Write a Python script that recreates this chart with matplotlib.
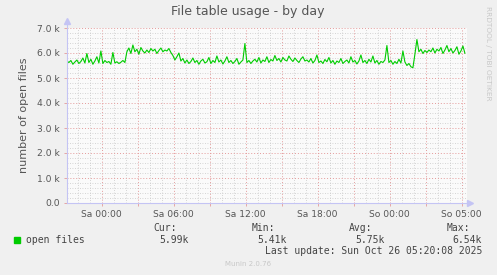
import numpy as np
import matplotlib
matplotlib.use("Agg")
import matplotlib.pyplot as plt

# open files, one reading every 10 minutes, in thousands
open_files_k = [
    5.68, 5.62, 5.70, 5.55, 5.64, 5.72, 5.58, 5.66, 5.80, 5.60,
    5.98, 5.62, 5.75, 5.55, 5.68, 5.85, 5.60, 6.08, 5.58, 5.70,
    5.62, 5.66, 5.55, 6.02, 5.60, 5.65, 5.58, 5.63, 5.70, 5.62,
    6.05, 6.20, 5.98, 6.32, 6.05, 6.15, 5.95, 6.22, 6.08, 6.00,
    6.12, 6.02, 6.18, 6.08, 6.15, 5.98, 6.10, 6.20, 6.05, 6.12,
    6.08, 6.18, 6.02, 5.90, 5.72, 5.85, 6.00, 5.68, 5.78, 5.60,
    5.72, 5.58, 5.66, 5.80, 5.62, 5.70, 5.55, 5.68, 5.75, 5.60,
    5.65, 5.82, 5.58, 5.70, 5.62, 5.88, 5.64, 5.72, 5.56, 5.68,
    5.85, 5.62, 5.70, 5.58, 5.66, 5.78, 5.55, 5.64, 5.72, 6.38,
    5.62, 5.70, 5.58, 5.68, 5.75, 5.64, 5.82, 5.60, 5.72, 5.66,
    5.85, 5.62, 5.74, 5.68, 5.90, 5.70, 5.78, 5.64, 5.82, 5.72,
    5.68, 5.88, 5.75, 5.66, 5.80, 5.70, 5.62, 5.76, 5.85, 5.68,
    5.72, 5.64, 5.78, 5.60, 5.70, 5.92, 5.62, 5.68, 5.58, 5.74,
    5.65, 5.82, 5.60, 5.70, 5.55, 5.68, 5.62, 5.78, 5.58, 5.66,
    5.72, 5.60, 5.85, 5.64, 5.70, 5.56, 5.68, 5.92, 5.62, 5.70,
    5.58, 5.75, 5.64, 5.88, 5.60, 5.70, 5.55, 5.66, 5.62, 5.72,
    6.30, 5.62, 5.70, 5.55, 5.66, 5.58, 5.75, 5.60, 6.08, 5.64,
    5.50, 5.58, 5.45, 5.41, 5.95, 6.54, 6.05, 6.15, 5.98, 6.10,
    6.02, 6.12, 6.05, 6.20, 6.00, 6.15, 6.08, 6.22, 5.98, 6.12,
    6.30, 6.05, 6.18, 6.00, 6.10, 6.25, 5.95, 6.08, 6.28, 5.99,
]
start_hour = -2.9   # hours relative to Sa 00:00
step_hour = 1 / 6

tick_hours = [0, 3, 6, 9, 12, 15, 18, 21, 24, 27, 30]
tick_labels = ["Sa 00:00", "", "Sa 06:00", "", "Sa 12:00", "", "Sa 18:00", "",
               "So 00:00", "", "So 05:00"]
y_ticks = [0, 1000, 2000, 3000, 4000, 5000, 6000, 7000]
y_labels = ["0.0", "1.0 k", "2.0 k", "3.0 k", "4.0 k", "5.0 k", "6.0 k", "7.0 k"]

cur_txt, min_txt, avg_txt, max_txt = "5.99k", "5.41k", "5.75k", "6.54k"
last_update = "Last update: Sun Oct 26 05:20:08 2025"

hours = start_hour + step_hour * np.arange(len(open_files_k))
values = np.array(open_files_k) * 1000

W, H = 497, 275
fig = plt.figure(figsize=(W / 100, H / 100), dpi=100, facecolor="#F0F0F0")
ax = fig.add_axes([67 / W, 72 / H, 400 / W, 175 / H], facecolor="#FAFAFA")

txt = "#555555"
axis_c = "#C4C4F4"

ax.set_xlim(-2.89, 30.44)
ax.set_ylim(0, 7000)

ax.set_xticks(tick_hours)
ax.set_xticklabels(tick_labels)
ax.set_xticks(np.arange(-2, 31, 1), minor=True)
ax.set_yticks(y_ticks)
ax.set_yticklabels(y_labels)
ax.set_yticks(np.arange(0, 7001, 200), minor=True)

ax.grid(which="minor", color="#C8C8C8", linestyle=(0, (1, 2)), linewidth=0.6)
ax.grid(which="major", color="#E49A9A", linestyle=(0, (1, 2)), linewidth=0.7)
ax.set_axisbelow(True)

ax.tick_params(axis="both", which="major", labelsize=6.6, colors=txt,
               length=2, width=0.6, pad=3)
ax.tick_params(axis="x", which="major", color="#E49A9A")
ax.tick_params(axis="y", which="major", color="#E49A9A")
ax.tick_params(which="minor", length=0)

for s in ["top", "right"]:
    ax.spines[s].set_visible(False)
for s in ["left", "bottom"]:
    ax.spines[s].set_color(axis_c)
    ax.spines[s].set_linewidth(0.8)
ax.spines["left"].set_bounds(0, 7200)
ax.plot([1.008], [0], marker=">", markersize=4, color=axis_c,
        transform=ax.transAxes, clip_on=False)
ax.plot([0], [1.04], marker="^", markersize=4, color=axis_c,
        transform=ax.transAxes, clip_on=False)

ax.plot(hours, values, color="#00CC00", linewidth=0.8)

ax.set_ylabel("number of open files", fontsize=8, color=txt, labelpad=6)
fig.text(248 / W, 1 - 12 / H, "File table usage - by day", fontsize=9,
         color=txt, ha="center", va="center")
fig.text(488 / W, 1 - 53 / H, "RRDTOOL / TOBI OETIKER", fontsize=5.3,
         color="#C8C8C8", ha="center", va="center", rotation=270)

mono = dict(family="DejaVu Sans Mono", fontsize=7, color="#444444", va="center")
fig.patches.append(plt.Rectangle((14 / W, 1 - 243 / H), 6 / W, 6 / H,
                                 transform=fig.transFigure, color="#00CC00"))
fig.text(26 / W, 1 - 240 / H, "open files", ha="left", **mono)
for cx, head, val in [(165, "Cur:", cur_txt), (263, "Min:", min_txt),
                      (361, "Avg:", avg_txt), (458, "Max:", max_txt)]:
    fig.text(cx / W, 1 - 228 / H, head, ha="center", **mono)
    fig.text((cx + 24) / W, 1 - 240 / H, val, ha="right", **mono)
fig.text(482 / W, 1 - 251 / H, last_update, ha="right", **mono)
fig.text(248 / W, 1 - 264 / H, "Munin 2.0.76", fontsize=5, color="#C8C8C8",
         ha="center", va="center")

fig.savefig("out.png", dpi=100, facecolor=fig.get_facecolor())
